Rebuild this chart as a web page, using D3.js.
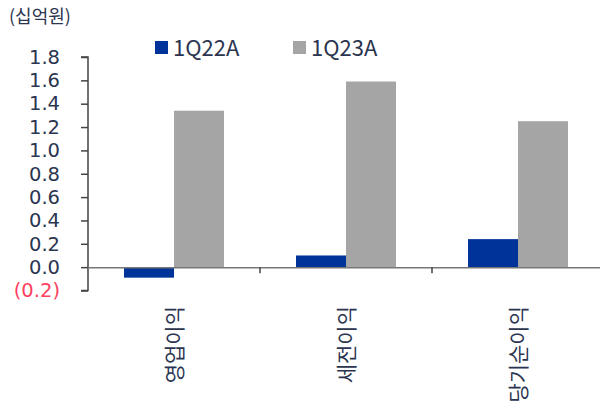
<!DOCTYPE html>
<html>
<head>
<meta charset="utf-8">
<script src="https://cdn.jsdelivr.net/npm/d3@7.9.0/dist/d3.min.js"></script>
<style>
  body { margin: 0; background: #fff; }
  svg { display: block; font-family: "Noto Sans CJK KR", "Noto Sans", sans-serif; }
</style>
</head>
<body>
<svg id="chart" width="600" height="420"></svg>
<script>
const categories = ['영업이익', '세전이익', '당기순이익'];
const seriesNames = ['1Q22A', '1Q23A'];
const q22 = [-0.09, 0.10, 0.24];
const q23 = [1.34, 1.59, 1.25];
const yTicks = [-0.2, 0, 0.2, 0.4, 0.6, 0.8, 1.0, 1.2, 1.4, 1.6, 1.8];
const colors = ['#003399', '#a5a5a5'];

const svg = d3.select('#chart');
const x = d3.scaleBand().domain(categories).range([88, 604]);
const y = d3.scaleLinear().domain([-0.2, 1.8]).range([290.5, 57]);
const xs = d3.scaleBand().domain(seriesNames).range([0, x.bandwidth()]).paddingOuter(0.72);

// unit
svg.append('text')
  .attr('x', 9).attr('y', 23)
  .attr('font-size', 18).attr('fill', '#2b3550')
  .text('(십억원)');

// legend
const legend = svg.append('g');
const legendX = [155, 293];
seriesNames.forEach((name, i) => {
  legend.append('rect')
    .attr('x', legendX[i]).attr('y', 41)
    .attr('width', 13).attr('height', 13)
    .attr('fill', colors[i]);
  legend.append('text')
    .attr('x', legendX[i] + 18).attr('y', 56)
    .attr('font-size', 22).attr('fill', '#2b3550')
    .text(name);
});

// bars
const data = categories.map((c, i) => ({ cat: c, vals: [q22[i], q23[i]] }));
svg.append('g').selectAll('g')
  .data(data)
  .join('g')
  .attr('transform', (d) => `translate(${x(d.cat)},0)`)
  .selectAll('rect')
  .data((d) => d.vals.map((v, i) => ({ v, s: seriesNames[i], i })))
  .join('rect')
  .attr('x', (d) => xs(d.s))
  .attr('width', xs.bandwidth())
  .attr('y', (d) => y(Math.max(0, d.v)))
  .attr('height', (d) => Math.abs(y(d.v) - y(0)))
  .attr('fill', (d) => colors[d.i]);

// y axis
const yAxis = svg.append('g')
  .attr('transform', 'translate(88,0)')
  .call(d3.axisLeft(y).tickValues(yTicks).tickSize(7).tickPadding(21)
    .tickFormat((d) => d < 0 ? `(${Math.abs(d).toFixed(1)})` : d.toFixed(1)));
yAxis.select('.domain').attr('stroke', '#444').attr('stroke-width', 1.5).attr('d', `M-7,${y(1.8)}H0V${y(-0.2)}H-7`);
yAxis.selectAll('.tick line').attr('stroke', '#444').attr('stroke-width', 1.5);
yAxis.selectAll('.tick text')
  .attr('font-size', 19.5)
  .attr('font-family', '"DejaVu Sans", sans-serif')
  .attr('fill', (d) => d < 0 ? '#ff4060' : '#2b3550');

// zero line with category ticks
const xAxis = svg.append('g')
  .attr('transform', `translate(0,${y(0)})`)
  .call(d3.axisBottom(x).tickSize(0).tickFormat(''));
xAxis.select('.domain').attr('stroke', '#777').attr('stroke-width', 1.5);
xAxis.selectAll('.tick').remove();
xAxis.selectAll('.sep')
  .data(categories.slice(1))
  .join('line')
  .attr('x1', (d) => x(d)).attr('x2', (d) => x(d))
  .attr('y1', 0).attr('y2', 6)
  .attr('stroke', '#444').attr('stroke-width', 1.5);

// category labels, rotated
svg.append('g').selectAll('text')
  .data(categories)
  .join('text')
  .attr('transform', (d) => `translate(${x(d) + x.bandwidth() / 2 + 8},306) rotate(-90)`)
  .attr('text-anchor', 'end')
  .attr('font-size', 21)
  .attr('fill', '#2b3550')
  .text((d) => d);
</script>
</body>
</html>
